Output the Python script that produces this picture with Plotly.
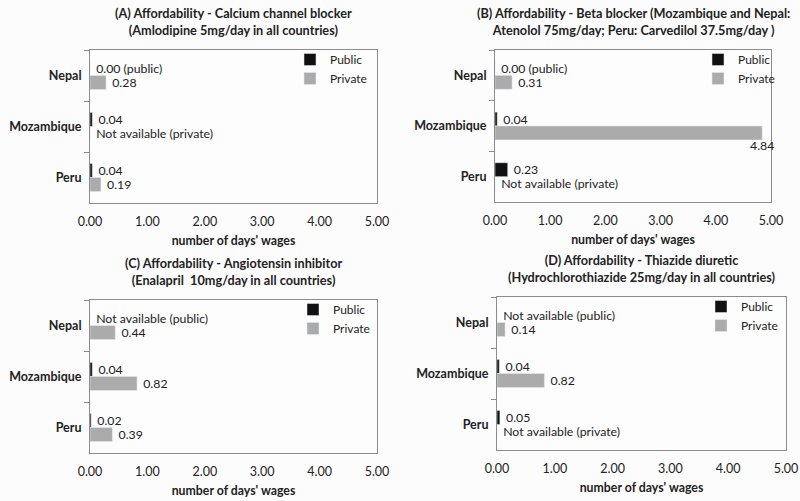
import plotly.graph_objects as go

countries = ["Nepal", "Mozambique", "Peru"]

a_public = [0.00, 0.04, 0.04]
a_private = [0.28, None, 0.19]
b_public = [0.00, 0.04, 0.23]
b_private = [0.31, 4.84, None]
c_public = [None, 0.04, 0.02]
c_private = [0.44, 0.82, 0.39]
d_public = [None, 0.04, 0.05]
d_private = [0.14, 0.82, None]

titles = [
    "(A) Affordability - Calcium channel blocker<br>(Amlodipine 5mg/day in all countries)",
    "(B) Affordability - Beta blocker (Mozambique and Nepal:<br>Atenolol 75mg/day; Peru: Carvedilol 37.5mg/day )",
    "(C) Affordability - Angiotensin inhibitor<br>(Enalapril  10mg/day in all countries)",
    "(D) Affordability - Thiazide diuretic<br>(Hydrochlorothiazide 25mg/day in all countries)",
]
x_ticks = [0, 1, 2, 3, 4, 5]
x_title = "number of days' wages"

FONT = "Lato, 'Open Sans', sans-serif"
W, H = 800, 501
# panel plot areas in pixels: (x0, x1, ytop, ybottom, legend_x)
panels = [
    (90, 377, 50, 203, 290),
    (495, 771, 50, 202, 698),
    (90, 377, 300, 453, 293),
    (497, 786, 297, 450, 701),
]
data = [
    (a_public, a_private),
    (b_public, b_private),
    (c_public, c_private),
    (d_public, d_private),
]

NB = "\u00a0"
LBL = dict(size=12.3, color="#222222", family=FONT)


def pub_label(v):
    if v is None:
        return NB + "Not available (public)"
    if v == 0:
        return NB + "0.00 (public)"
    return NB + f"{v:.2f}"


def priv_label(v):
    if v is None:
        return NB + "Not available (private)"
    return NB + f"{v:.2f}"


fig = go.Figure()
annotations = []
for i, ((pub, priv), (x0, x1, yt, yb, lx)) in enumerate(zip(data, panels)):
    n = "" if i == 0 else str(i + 1)
    xa, ya = "x" + n, "y" + n
    leg = "legend" + n
    priv_pos = []
    for v in priv:
        priv_pos.append("none" if (v is not None and v > 4.5) else "outside")
    fig.add_trace(go.Bar(
        y=countries, x=[v if v is not None else 0 for v in pub], orientation="h",
        name="Public", marker=dict(color="#111111"),
        text=[pub_label(v) for v in pub], textposition="outside", constraintext="none",
        textfont=LBL, cliponaxis=False, xaxis=xa, yaxis=ya, legend=leg, showlegend=True,
    ))
    fig.add_trace(go.Bar(
        y=countries, x=[v if v is not None else 0 for v in priv], orientation="h",
        name="Private", marker=dict(color="#ababab"),
        text=[priv_label(v) for v in priv], textposition=priv_pos, constraintext="none",
        textfont=LBL, cliponaxis=False, xaxis=xa, yaxis=ya, legend=leg, showlegend=True,
    ))
    for c, v in zip(countries, priv):
        if v is not None and v > 4.5:
            annotations.append(dict(
                x=v, y=c, xref=xa, yref=ya, text=f"{v:.2f}", showarrow=False,
                xanchor="center", yanchor="middle", yshift=-19, font=LBL))
    dom_x = [x0 / W, x1 / W]
    dom_y = [1 - yb / H, 1 - yt / H]
    axis_common = dict(showline=True, linecolor="#8c8c8c", linewidth=1, mirror=True,
                       showgrid=False, zeroline=False, automargin=False)
    fig.update_layout(**{
        "xaxis" + n: dict(domain=dom_x, range=[0, 5], tickvals=x_ticks, tickformat=".2f",
                          anchor=ya, ticks="", ticklabelstandoff=7,
                          tickfont=dict(size=12.5, color="#222222", family=FONT),
                          title=dict(text="<b>" + x_title + "</b>", standoff=8,
                                     font=dict(size=12.3, color="#222222", family=FONT)),
                          fixedrange=True, **axis_common),
        "yaxis" + n: dict(domain=dom_y, autorange="reversed", type="category",
                          categoryorder="array", categoryarray=countries,
                          anchor=xa, ticks="outside", tickson="boundaries", ticklen=5,
                          tickcolor="#8c8c8c",
                          tickfont=dict(size=12.5, color="#222222", family=FONT, weight="bold"),
                          ticklabelstandoff=5, fixedrange=True,
                          **axis_common),
        leg: dict(x=lx / W, y=1 - (yt - 5) / H, xanchor="left", yanchor="top",
                  bgcolor="rgba(0,0,0,0)", font=dict(size=12, color="#222222", family=FONT),
                  itemwidth=30),
    })
    annotations.append(dict(
        x=(x0 + x1) / 2 / W, y=1 - (yt - 29) / H, xref="paper", yref="paper",
        text="<b>" + titles[i] + "</b>", showarrow=False, xanchor="center", yanchor="middle",
        font=dict(size=12.7, color="#222222", family=FONT)))

fig.update_layout(
    width=W, height=H, margin=dict(l=0, r=0, t=0, b=0, autoexpand=False),
    paper_bgcolor="#fcfcfc", plot_bgcolor="#fdfdfd",
    barmode="group", bargap=0.45, bargroupgap=0,
    font=dict(family=FONT, size=12, color="#222222"),
    annotations=annotations,
)

fig.write_html(
    "out.html",
    config={"displayModeBar": False},
    post_script="document.body.style.margin='0';document.body.style.overflow='hidden';",
)
